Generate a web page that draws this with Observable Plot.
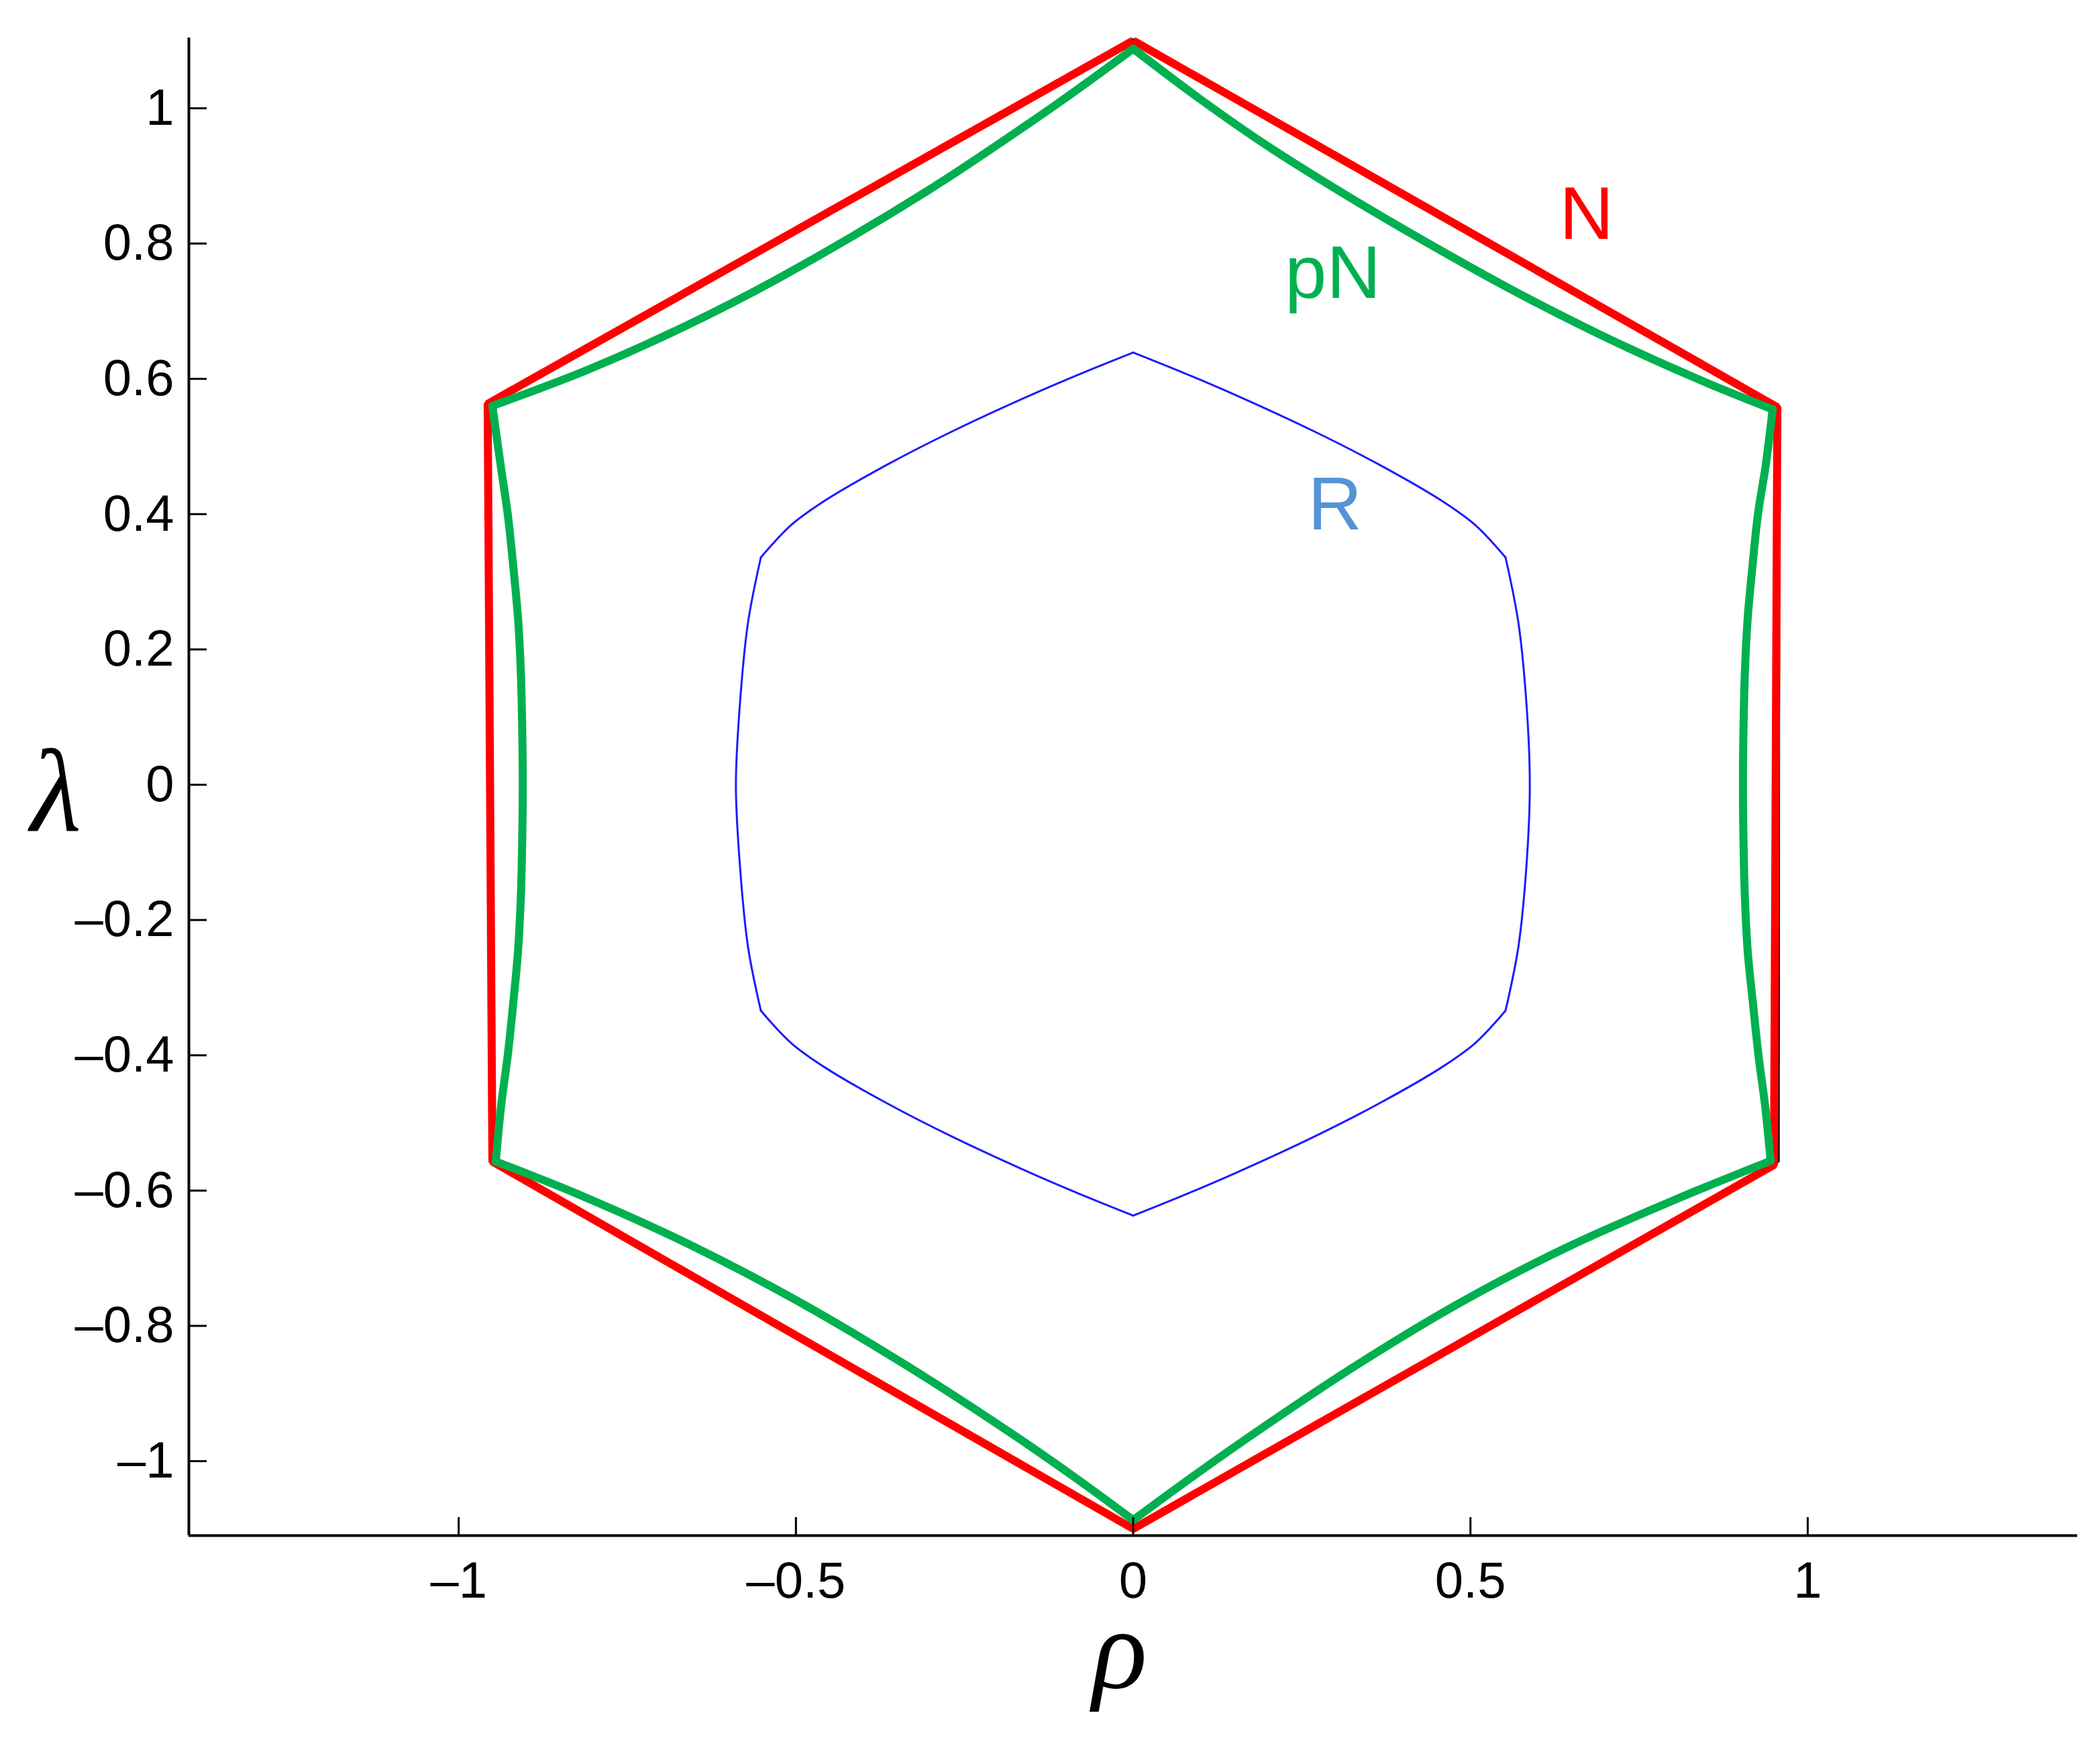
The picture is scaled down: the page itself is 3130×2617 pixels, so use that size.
<!DOCTYPE html>
<html>
<head>
<meta charset="utf-8">
<script src="https://cdn.jsdelivr.net/npm/d3@7"></script>
<script src="https://cdn.jsdelivr.net/npm/@observablehq/plot@0.6"></script>
<style>
  html, body { margin: 0; padding: 0; background: #ffffff; }
  #chart svg { display: block; }
</style>
</head>
<body>
<div id="chart"></div>
<script>
// ---- Data ----
// Thin black reference hexagon (mostly hidden under N)
const hexRho    = [0, 0.958, 0.957, 0, -0.954, -0.959, 0];
const hexLambda = [1.102, 0.556, -0.557, -1.104, -0.556, 0.561, 1.102];

// N (red hexagon)
const nRho    = [0, 0.955, 0.95, 0, -0.95, -0.957, 0];
const nLambda = [1.1, 0.558, -0.562, -1.1, -0.557, 0.563, 1.1];

// pN (green, concave sides), one edge id per point
const pnEdge = [
  0,0,0,0,0,0,0,0,0,
  1,1,1,1,1,1,1,1,1,1,1,1,1,1,1,
  2,2,2,2,2,2,2,2,
  3,3,3,3,3,3,3,3,
  4,4,4,4,4,4,4,4,4,4,4,4,4,4,4,
  5,5,5,5,5,5,5
];
const pnRho = [
  0, 0.1, 0.201, 0.305, 0.403, 0.555, 0.695, 0.834, 0.948,
  0.948, 0.938, 0.926, 0.918, 0.911, 0.907, 0.905, 0.904, 0.905, 0.907, 0.911, 0.919, 0.927, 0.937, 0.945,
  0.945, 0.802, 0.645, 0.486, 0.328, 0.169, 0.085, 0,
  0, -0.085, -0.179, -0.337, -0.496, -0.653, -0.812, -0.945,
  -0.945, -0.937, -0.927, -0.919, -0.912, -0.908, -0.906, -0.905, -0.906, -0.908, -0.912, -0.919, -0.927, -0.938, -0.95,
  -0.95, -0.812, -0.685, -0.527, -0.305, -0.115, 0
];
const pnLambda = [
  1.088, 1.013, 0.943, 0.878, 0.820, 0.735, 0.664, 0.601, 0.555,
  0.555, 0.474, 0.398, 0.322, 0.246, 0.170, 0.094, 0, -0.094, -0.170, -0.246, -0.325, -0.400, -0.476, -0.556,
  -0.556, -0.614, -0.683, -0.765, -0.860, -0.966, -1.025, -1.087,
  -1.087, -1.025, -0.960, -0.858, -0.764, -0.682, -0.610, -0.557,
  -0.557, -0.474, -0.398, -0.322, -0.246, -0.170, -0.094, 0, 0.094, 0.170, 0.246, 0.322, 0.398, 0.474, 0.560,
  0.560, 0.612, 0.668, 0.748, 0.878, 1.005, 1.088
];

// R (blue, convex sides), one edge id per point
const rEdge = [
  0,0,0,0,0,0,0,0,
  1,1,1,1,1,1,1,
  2,2,2,2,2,2,2,2,
  3,3,3,3,3,3,3,3,
  4,4,4,4,4,4,4,
  5,5,5,5,5,5,5,5
];
const rRho = [
  0, 0.077, 0.152, 0.267, 0.365, 0.457, 0.507, 0.552,
  0.552, 0.571, 0.583, 0.588, 0.583, 0.571, 0.552,
  0.552, 0.507, 0.457, 0.365, 0.267, 0.152, 0.077, 0,
  0, -0.077, -0.152, -0.267, -0.365, -0.457, -0.507, -0.552,
  -0.552, -0.571, -0.583, -0.589, -0.583, -0.571, -0.552,
  -0.552, -0.507, -0.457, -0.365, -0.267, -0.152, -0.077, 0
];
const rLambda = [
  0.639, 0.608, 0.576, 0.523, 0.473, 0.420, 0.384, 0.336,
  0.336, 0.240, 0.120, 0, -0.120, -0.240, -0.334,
  -0.334, -0.382, -0.418, -0.471, -0.521, -0.574, -0.606, -0.637,
  -0.637, -0.606, -0.574, -0.521, -0.471, -0.418, -0.382, -0.334,
  -0.334, -0.240, -0.120, 0, 0.120, 0.240, 0.336,
  0.336, 0.384, 0.420, 0.473, 0.523, 0.576, 0.608, 0.639
];

// Curve labels
const labelText   = ["N", "pN", "R"];
const labelRho    = [0.672, 0.296, 0.299];
const labelLambda = [0.807, 0.72, 0.377];
const labelColor  = ["#ff0000", "#00b050", "#5593d6"];

// Axes
const xDomain = [-1.4, 1.4];
const yDomain = [-1.11, 1.104];
const xTicks = [-1, -0.5, 0, 0.5, 1];
const yTicks = [-1, -0.8, -0.6, -0.4, -0.2, 0, 0.2, 0.4, 0.6, 0.8, 1];

// ---- Layout ----
const W = 3130, H = 2617;
const mL = 281, mR = 34, mT = 56, mB = 329;
const frameW = W - mL - mR, frameH = H - mT - mB;
const tickLen = 27;

const fmt = d => d < 0 ? "\u2013" + Math.abs(d) : String(d);
const idx = arr => arr.map((_, i) => i);
const lineOf = (xs, ys, opts) => Plot.line(idx(xs), {x: i => xs[i], y: i => ys[i], ...opts});

const chart = Plot.plot({
  width: W,
  height: H,
  marginLeft: mL,
  marginRight: mR,
  marginTop: mT,
  marginBottom: mB,
  x: {domain: xDomain, label: null},
  y: {domain: yDomain, label: null},
  style: {fontFamily: "'Liberation Sans', Arial, Helvetica, sans-serif", background: "#ffffff", color: "#000000"},
  marks: [
    lineOf(hexRho, hexLambda, {stroke: "#000000", strokeWidth: 3, strokeLinejoin: "miter"}),
    lineOf(nRho, nLambda, {stroke: "#ff0000", strokeWidth: 12, strokeLinejoin: "miter", strokeLinecap: "butt"}),
    lineOf(pnRho, pnLambda, {
      z: i => pnEdge[i], curve: "catmull-rom",
      stroke: "#00b050", strokeWidth: 12, strokeLinejoin: "miter", strokeLinecap: "round"
    }),
    lineOf(rRho, rLambda, {
      z: i => rEdge[i], curve: "catmull-rom",
      stroke: "#1c1cff", strokeWidth: 3, strokeLinejoin: "miter", strokeLinecap: "round"
    }),

    // axis lines
    Plot.ruleY([yDomain[0]], {x1: xDomain[0], x2: xDomain[1], stroke: "#000000", strokeWidth: 4}),
    Plot.ruleX([xDomain[0]], {y1: yDomain[0], y2: yDomain[1], stroke: "#000000", strokeWidth: 4}),

    // inward tick marks
    Plot.tickX(xTicks, {x: d => d, stroke: "#000000", strokeWidth: 3, insetTop: frameH - tickLen}),
    Plot.tickY(yTicks, {y: d => d, stroke: "#000000", strokeWidth: 3, insetRight: frameW - tickLen}),

    // tick labels
    Plot.axisX(xTicks, {tickSize: 0, tickPadding: 39, fontSize: 76, tickFormat: fmt, label: null}),
    Plot.axisY(yTicks, {tickSize: 0, tickPadding: 22, fontSize: 76, tickFormat: fmt, label: null}),

    // curve labels
    Plot.text(idx(labelText), {
      x: i => labelRho[i], y: i => labelLambda[i], text: i => labelText[i],
      fill: i => labelColor[i], fontSize: 112, lineAnchor: "bottom", textAnchor: "middle"
    }),

    // axis titles
    Plot.text(["\u03c1"], {
      frameAnchor: "bottom", dx: -20, dy: 226, lineAnchor: "bottom", textAnchor: "middle",
      fontSize: 170, fontStyle: "italic", fontFamily: "'Liberation Serif', 'DejaVu Serif', serif"
    }),
    Plot.text(["\u03bb"], {
      frameAnchor: "left", dx: -198, dy: 65, lineAnchor: "bottom", textAnchor: "middle",
      fontSize: 175, fontStyle: "italic", fontFamily: "'Liberation Serif', 'DejaVu Serif', serif"
    })
  ]
});

document.getElementById("chart").appendChild(chart);
</script>
</body>
</html>
